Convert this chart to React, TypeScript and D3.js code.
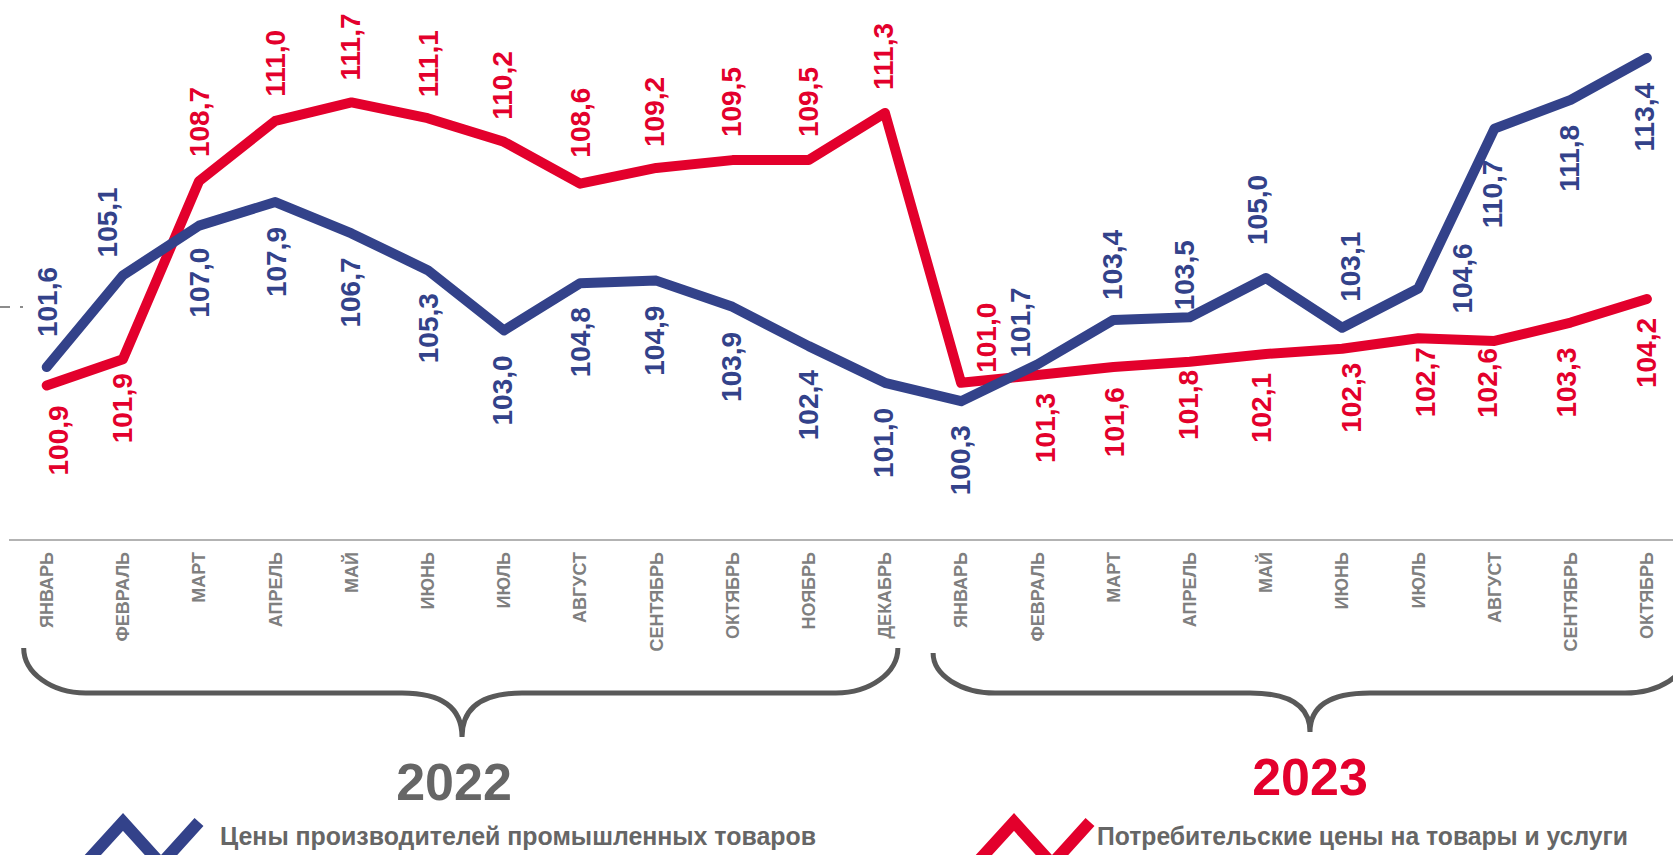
import React from 'react';
import * as d3 from 'd3';

const months = ['ЯНВАРЬ', 'ФЕВРАЛЬ', 'МАРТ', 'АПРЕЛЬ', 'МАЙ', 'ИЮНЬ', 'ИЮЛЬ', 'АВГУСТ', 'СЕНТЯБРЬ', 'ОКТЯБРЬ', 'НОЯБРЬ', 'ДЕКАБРЬ',
  'ЯНВАРЬ', 'ФЕВРАЛЬ', 'МАРТ', 'АПРЕЛЬ', 'МАЙ', 'ИЮНЬ', 'ИЮЛЬ', 'АВГУСТ', 'СЕНТЯБРЬ', 'ОКТЯБРЬ'];

const producerPrices = [101.6, 105.1, 107.0, 107.9, 106.7, 105.3, 103.0, 104.8, 104.9, 103.9, 102.4, 101.0,
  100.3, 101.7, 103.4, 103.5, 105.0, 103.1, 104.6, 110.7, 111.8, 113.4];

const consumerPrices = [100.9, 101.9, 108.7, 111.0, 111.7, 111.1, 110.2, 108.6, 109.2, 109.5, 109.5, 111.3,
  101.0, 101.3, 101.6, 101.8, 102.1, 102.3, 102.7, 102.6, 103.3, 104.2];

const years = ['2022', '2023'];
const yearMonthCounts = [12, 10];
const seriesNames = ['Цены производителей промышленных товаров', 'Потребительские цены на товары и услуги'];

// label layout (placement side, gap from point in px, horizontal shift in px)
const blueSide = ['a', 'a', 'b', 'b', 'b', 'b', 'b', 'b', 'b', 'b', 'b', 'b', 'b', 'a', 'a', 'a', 'a', 'a', 'b', 'b', 'b', 'b'];
const blueGap = [30, 18, 22, 25, 24, 23, 25, 24, 25, 25, 24, 25, 24, 7, 20, 7, 33, 26, -45, 31, 25, 25];
const blueDx = [0, -16, 0, 1, -1, 0, -2, 0, -2, -1, -1, -2, -1, -17, -1, -6, -9, 8, 44, -2, -2, -3];
const redSide = ['b', 'b', 'a', 'a', 'a', 'a', 'a', 'a', 'a', 'a', 'a', 'a', 'a', 'b', 'b', 'b', 'b', 'b', 'b', 'b', 'b', 'b'];
const redGap = [20, 14, 24, 24, 22, 21, 22, 26, 21, 23, 23, 23, 10, 18, 20, 8, 19, 14, 9, 7, 25, 19];
const redDx = [11, -1, 0, 0, -1, 0, -2, 0, -2, -1, -1, -2, 25, 8, 1, -2, -5, 9, 7, -7, -5, -1];

const BLUE = '#33428a';
const RED = '#e3002c';
const GRAY = '#666666';
const FONT = '"Liberation Sans", Arial, Helvetica, sans-serif';

const W = 1673;
const H = 855;

const fmt = (v: number) => v.toFixed(1).replace('.', ',');

export default function App() {
  const x = d3.scalePoint<number>().domain(d3.range(months.length)).range([46.7, 1646.9]);
  const y = d3.scaleLinear().domain([95, 115]).range([540, 16]);
  const line = d3.line<number>().x((_, i) => x(i) as number).y(d => y(d));

  const labels = (vals: number[], side: string[], gap: number[], dx: number[], color: string, key: string) =>
    vals.map((v, i) => {
      const px = (x(i) as number) + dx[i];
      const above = side[i] === 'a';
      const py = above ? y(v) - gap[i] : y(v) + gap[i];
      return (
        <text key={key + i} transform={`translate(${px},${py}) rotate(-90)`} textAnchor={above ? 'start' : 'end'}
          dy="0.35em" fill={color} fontSize={28} fontWeight="bold" fontFamily={FONT}>{fmt(v)}</text>
      );
    });

  const brace = (x0: number, x1: number, cx: number, top: number, hy: number, tip: number) => {
    const r = 62;
    return `M${x0},${top} A${r},${hy - top} 0 0 0 ${x0 + r},${hy} H${cx - 60} Q${cx},${hy} ${cx},${tip} Q${cx},${hy} ${cx + 60},${hy} H${x1 - r} A${r},${hy - top} 0 0 0 ${x1},${top}`;
  };

  const firstIdx = [0, yearMonthCounts[0]];
  const lastIdx = [yearMonthCounts[0] - 1, yearMonthCounts[0] + yearMonthCounts[1] - 1];
  const braceX0 = [(x(firstIdx[0]) as number) - 23, (x(firstIdx[1]) as number) - 28];
  const braceX1 = [(x(lastIdx[0]) as number) + 13, (x(lastIdx[1]) as number) + 40];
  const braceCx = [462, 1310];
  const braceTop = [648, 653];
  const braceTip = [737, 732];
  const yearColors = [GRAY, RED];
  const yearCx = [454, 1310];
  const yearBase = [800, 795];

  const legendIconX = [123, 1014];
  const legendTextX = [220, 1097];
  const legendTextW = [596, 531];
  const legendColors = [BLUE, RED];

  return (
    <div style={{ position: 'fixed', left: 0, top: 0, width: W, height: H, background: '#fff' }}>
      <svg width={W} height={H} style={{ display: 'block', overflow: 'hidden' }}>
        <rect width={W} height={H} fill="#fff" />
        {/* small dashed tick on left */}
        <line x1={0} x2={23} y1={307} y2={307} stroke="#8c8c8c" strokeWidth={2} strokeDasharray="10 10 3" />
        {/* axis line */}
        <line x1={9} x2={W} y1={540} y2={540} stroke="#b3b3b3" strokeWidth={2} />
        {/* month labels */}
        {months.map((m, i) => (
          <text key={'m' + i} transform={`translate(${x(i)},552) rotate(-90)`} textAnchor="end" dy="0.35em"
            fill="#7f7f7f" fontSize={18} fontWeight="bold" fontFamily={FONT}>{m}</text>
        ))}
        {/* lines */}
        <path d={line(consumerPrices) as string} fill="none" stroke={RED} strokeWidth={10} strokeLinecap="round" strokeLinejoin="round" />
        <path d={line(producerPrices) as string} fill="none" stroke={BLUE} strokeWidth={10} strokeLinecap="round" strokeLinejoin="round" />
        {labels(producerPrices, blueSide, blueGap, blueDx, BLUE, 'b')}
        {labels(consumerPrices, redSide, redGap, redDx, RED, 'r')}
        {/* braces and years */}
        {years.map((yr, i) => (
          <g key={'y' + i}>
            <path d={brace(braceX0[i], braceX1[i], braceCx[i], braceTop[i], 693, braceTip[i])} fill="none" stroke="#595959" strokeWidth={5} />
            <text x={yearCx[i]} y={yearBase[i]} textAnchor="middle"
              fill={yearColors[i]} fontSize={52} fontWeight="bold" fontFamily={FONT}>{yr}</text>
          </g>
        ))}
        {/* legend */}
        {seriesNames.map((s, i) => {
          const lx = legendIconX[i];
          return (
            <g key={'l' + i}>
              <polyline points={`${lx - 42},${868} ${lx},${822} ${lx + 38},${864} ${lx + 76},${822}`}
                fill="none" stroke={legendColors[i]} strokeWidth={12} strokeLinejoin="miter" />
              <text x={legendTextX[i]} y={845} textLength={legendTextW[i]} lengthAdjust="spacingAndGlyphs"
                fill={GRAY} fontSize={26} fontWeight="bold" fontFamily={FONT}>{s}</text>
            </g>
          );
        })}
      </svg>
    </div>
  );
}
